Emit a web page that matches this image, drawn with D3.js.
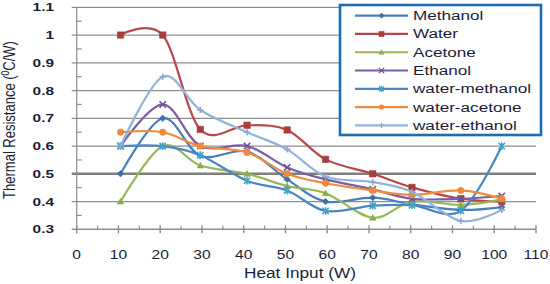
<!DOCTYPE html>
<html>
<head>
<meta charset="utf-8">
<script src="https://cdn.jsdelivr.net/npm/d3@7"></script>
<style>
    html, body { margin: 0; padding: 0; background: #fff; }
    svg { display: block; }
    svg text { font-family: 'Liberation Sans', Arial, sans-serif; }
</style>
</head>
<body>
<div id="chart"></div>
<script>
// Heat input (W) at which each reading was taken
const heatInput = [10.5, 20.6, 29.6, 40.8, 50.4, 59.6, 70.9, 80.3, 92, 101.8];

// Thermal resistance (°C/W) per working fluid
const methanol      = [0.50, 0.70, 0.565, 0.58, 0.48, 0.40, 0.414, 0.39, 0.37, 0.38];
const water         = [1.00, 1.00, 0.66, 0.675, 0.658, 0.552, 0.50, 0.451, 0.41, 0.40];
const acetone       = [0.40, 0.60, 0.53, 0.50, 0.456, 0.43, 0.342, 0.40, 0.388, 0.408];
const ethanol       = [0.60, 0.75, 0.60, 0.60, 0.523, 0.48, 0.444, 0.41, 0.41, 0.42];
const waterMethanol = [0.60, 0.60, 0.567, 0.475, 0.44, 0.366, 0.385, 0.387, 0.367, 0.60];
const waterAcetone  = [0.65, 0.65, 0.60, 0.577, 0.50, 0.466, 0.44, 0.424, 0.44, 0.41];
const waterEthanol  = [0.60, 0.85, 0.73, 0.65, 0.588, 0.49, 0.47, 0.435, 0.33, 0.37];

const seriesNames = ['Methanol', 'Water', 'Acetone', 'Ethanol', 'water-methanol', 'water-acetone', 'water-ethanol'];
const seriesValues = [methanol, water, acetone, ethanol, waterMethanol, waterAcetone, waterEthanol];

const xTicks = [0, 10, 20, 30, 40, 50, 60, 70, 80, 90, 100, 110];
const yTicks = [0.3, 0.4, 0.5, 0.6, 0.7, 0.8, 0.9, 1.0, 1.1];

// look of each series: line colour, marker colour, marker type
const styles = [
    { line: '#4a7ebb', mark: '#3c6ead', shape: 'diamond' },
    { line: '#b9474a', mark: '#a93c3c', shape: 'square' },
    { line: '#95b755', mark: '#8aad4b', shape: 'triangle' },
    { line: '#7b5ea0', mark: '#6f5292', shape: 'times' },
    { line: '#4b86c2', mark: '#3fa8c4', shape: 'star' },
    { line: '#f08c3e', mark: '#f0883a', shape: 'circle' },
    { line: '#93b2da', mark: '#8aa9d3', shape: 'plus' }
];

function markerPath(shape, s) {
    switch (shape) {
        case 'diamond': return `M0,${-s}L${s},0L0,${s}L${-s},0Z`;
        case 'square': return `M${-s},${-s}H${s}V${s}H${-s}Z`;
        case 'triangle': return `M0,${-s}L${s},${s * 0.8}L${-s},${s * 0.8}Z`;
        case 'times': return `M${-s},${-s}L${s},${s}M${s},${-s}L${-s},${s}`;
        case 'star': return `M${-s},${-s}L${s},${s}M${s},${-s}L${-s},${s}M0,${-s * 1.2}V${s * 1.2}`;
        case 'plus': return `M${-s},0H${s}M0,${-s}V${s}`;
        default: return null;
    }
}

const W = 550, H = 284;
const svg = d3.select('#chart').append('svg')
    .attr('width', W).attr('height', H);

const x = d3.scaleLinear().domain([0, 110]).range([76.7, 536]);
const y = d3.scaleLinear().domain([0.3, 1.1]).range([229.3, 7.3]);

// horizontal grid lines (0.5 drawn heavier)
svg.append('g')
    .selectAll('line')
    .data(yTicks.slice(1))
    .join('line')
    .attr('x1', x(0) - 5)
    .attr('x2', x(110))
    .attr('y1', d => y(d))
    .attr('y2', d => y(d))
    .attr('stroke', d => Math.abs(d - 0.5) < 1e-9 ? '#7f7f7f' : '#8e8e8e')
    .attr('stroke-width', d => Math.abs(d - 0.5) < 1e-9 ? 2.6 : 1.2);

// minor y ticks, pointing into the plot
svg.append('g')
    .selectAll('line')
    .data(yTicks.slice(0, -1).map(d => d + 0.05))
    .join('line')
    .attr('x1', x(0))
    .attr('x2', x(0) + 5)
    .attr('y1', d => y(d))
    .attr('y2', d => y(d))
    .attr('stroke', '#8e8e8e')
    .attr('stroke-width', 1.2);

// axis lines
svg.append('line')
    .attr('x1', x(0)).attr('x2', x(0))
    .attr('y1', y(1.1)).attr('y2', y(0.3))
    .attr('stroke', '#8e8e8e').attr('stroke-width', 1.2);
svg.append('line')
    .attr('x1', x(0) - 5).attr('x2', x(110))
    .attr('y1', y(0.3)).attr('y2', y(0.3))
    .attr('stroke', '#8e8e8e').attr('stroke-width', 1.4);

// x ticks: majors cross the axis, minors sit inside
svg.append('g')
    .selectAll('line')
    .data(xTicks)
    .join('line')
    .attr('x1', d => x(d)).attr('x2', d => x(d))
    .attr('y1', y(0.3) - 4).attr('y2', y(0.3) + 4)
    .attr('stroke', '#8e8e8e').attr('stroke-width', 1.4);
svg.append('g')
    .selectAll('line')
    .data(xTicks.slice(0, -1).map(d => d + 5))
    .join('line')
    .attr('x1', d => x(d)).attr('x2', d => x(d))
    .attr('y1', y(0.3) - 3.5).attr('y2', y(0.3))
    .attr('stroke', '#8e8e8e').attr('stroke-width', 1.2);

// tick labels (the source picture is stretched sideways, so text is too)
svg.append('g')
    .selectAll('text')
    .data(yTicks)
    .join('text')
    .attr('transform', d => `translate(54,${y(d) + 4}) scale(1.4,1)`)
    .attr('text-anchor', 'end')
    .style('font-size', '11px')
    .style('font-weight', 'bold')
    .attr('fill', '#1c1c38')
    .text(d => +d.toFixed(1));

svg.append('g')
    .selectAll('text')
    .data(xTicks)
    .join('text')
    .attr('transform', d => `translate(${x(d)},258.5) scale(1.2,1)`)
    .attr('text-anchor', 'middle')
    .style('font-size', '13px')
    .attr('fill', '#1c1c38')
    .text(d => d);

// axis titles
svg.append('text')
    .attr('transform', 'translate(300,277.5) scale(1.23,1)')
    .attr('text-anchor', 'middle')
    .style('font-size', '14px')
    .attr('fill', '#1c1c38')
    .text('Heat Input (W)');

const yTitle = svg.append('text')
    .attr('transform', 'translate(15,120) scale(1.25,1) rotate(-90)')
    .attr('text-anchor', 'middle')
    .style('font-size', '13px')
    .attr('fill', '#1c1c38');
yTitle.append('tspan').text('Thermal Resistance (');
yTitle.append('tspan').attr('dy', -5).style('font-size', '8.5px').text('0');
yTitle.append('tspan').attr('dy', 5).text('C/W)');

// series lines, smoothed like the spreadsheet original
const line = d3.line()
    .x((d, i) => x(heatInput[i]))
    .y(d => y(d))
    .curve(d3.curveCardinal.tension(0));

seriesValues.forEach((vals, k) => {
    const st = styles[k];
    const g = svg.append('g');
    g.append('path')
        .datum(vals)
        .attr('fill', 'none')
        .attr('stroke', st.line)
        .attr('stroke-width', 2.2)
        .attr('d', line);

    const open = st.shape === 'times' || st.shape === 'star' || st.shape === 'plus';
    g.selectAll('.mark')
        .data(vals)
        .join(st.shape === 'circle' ? 'circle' : 'path')
        .attr('class', 'mark')
        .each(function (d, i) {
            const el = d3.select(this);
            if (st.shape === 'circle') {
                el.attr('cx', x(heatInput[i])).attr('cy', y(d)).attr('r', 3.2);
            } else {
                el.attr('transform', `translate(${x(heatInput[i])},${y(d)})`)
                  .attr('d', markerPath(st.shape, 3.2));
            }
        })
        .attr('fill', open ? 'none' : st.mark)
        .attr('stroke', st.mark)
        .attr('stroke-width', open ? 1.6 : 0.6);
});

// legend
const legend = svg.append('g');
legend.append('rect')
    .attr('x', 340).attr('y', 5)
    .attr('width', 201).attr('height', 130)
    .attr('fill', '#fff')
    .attr('stroke', '#1d6db3')
    .attr('stroke-width', 2.6);

seriesNames.forEach((name, k) => {
    const st = styles[k];
    const ry = 15.7 + k * 18.27;
    legend.append('line')
        .attr('x1', 355).attr('x2', 408)
        .attr('y1', ry).attr('y2', ry)
        .attr('stroke', st.line).attr('stroke-width', 2.2);
    const open = st.shape === 'times' || st.shape === 'star' || st.shape === 'plus';
    if (st.shape === 'circle') {
        legend.append('circle').attr('cx', 381.5).attr('cy', ry).attr('r', 2.6).attr('fill', st.mark);
    } else {
        legend.append('path')
            .attr('transform', `translate(381.5,${ry})`)
            .attr('d', markerPath(st.shape, 2.6))
            .attr('fill', open ? 'none' : st.mark)
            .attr('stroke', st.mark)
            .attr('stroke-width', open ? 1.3 : 0.5);
    }
    legend.append('text')
        .attr('transform', `translate(413,${ry + 4.5}) scale(1.37,1)`)
        .style('font-size', '12.5px')
        .attr('fill', '#1c1c38')
        .text(name);
});
</script>
</body>
</html>
